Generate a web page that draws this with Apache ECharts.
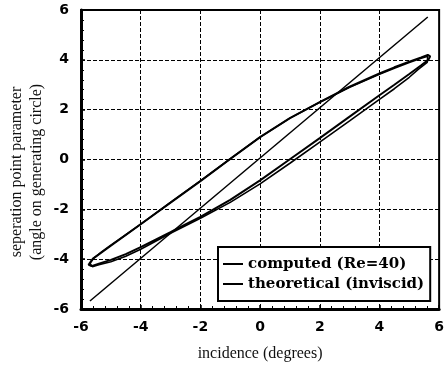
<!DOCTYPE html>
<html>
<head>
<meta charset="utf-8">
<script src="https://cdn.jsdelivr.net/npm/echarts@6/dist/echarts.min.js"></script>
<style>
html,body{margin:0;padding:0;background:#fff;}
#chart{width:447px;height:367px;}
</style>
</head>
<body>
<div id="chart"></div>
<script>
// ---- data ----
const axisTicks = [-6, -4, -2, 0, 2, 4, 6];
const xAxisTitle = 'incidence (degrees)';
const yAxisTitle = ['seperation point parameter', '(angle on generating circle)'];
const seriesNames = ['computed (Re=40)', 'theoretical (inviscid)'];

// computed hysteresis loop, first cycle [incidence, separation parameter]
const computedCycle1 = [
  [-5.72,-4.18],[-5.6,-3.98],[-5.3,-3.72],[-5.0,-3.46],[-4.5,-3.03],[-4.0,-2.6],
  [-3.0,-1.73],[-2.0,-0.87],[-1.0,0.02],[0.0,0.9],[1.0,1.66],[2.0,2.3],[3.0,2.92],
  [4.0,3.45],[4.5,3.7],[5.0,3.93],[5.4,4.1],[5.62,4.2],[5.7,4.14],[5.64,4.0],
  [5.4,3.78],[5.0,3.43],[4.5,3.0],[4.0,2.58],[3.0,1.72],[2.0,0.86],[1.0,0.01],
  [0.0,-0.84],[-1.0,-1.62],[-2.0,-2.3],[-2.5,-2.6],[-3.0,-2.92],[-3.5,-3.22],
  [-4.0,-3.52],[-4.5,-3.8],[-5.0,-4.03],[-5.4,-4.18],[-5.65,-4.28],[-5.75,-4.22],[-5.72,-4.18]
];
// computed hysteresis loop, second cycle
const computedCycle2 = [
  [-5.7,-4.16],[-5.58,-3.97],[-5.3,-3.7],[-5.0,-3.44],[-4.5,-3.02],[-4.0,-2.59],
  [-3.0,-1.72],[-2.0,-0.86],[-1.0,0.03],[0.0,0.9],[1.0,1.66],[2.0,2.3],[3.0,2.9],
  [4.0,3.42],[4.5,3.66],[5.0,3.89],[5.4,4.06],[5.62,4.14],[5.68,4.06],[5.6,3.9],
  [5.3,3.62],[5.0,3.3],[4.5,2.84],[4.0,2.41],[3.0,1.55],[2.0,0.7],[1.0,-0.15],
  [0.0,-0.98],[-1.0,-1.72],[-2.0,-2.36],[-2.5,-2.66],[-3.0,-2.96],[-3.5,-3.28],
  [-4.0,-3.6],[-4.5,-3.88],[-5.0,-4.1],[-5.4,-4.22],[-5.62,-4.3],[-5.7,-4.16]
];
// theoretical (inviscid) straight line
const theoretical = [[-5.7,-5.68],[5.62,5.72]];

// ---- chart ----
const chart = echarts.init(document.getElementById('chart'), null, {renderer: 'canvas'});
const tickFont = {color:'#000', fontFamily:'DejaVu Sans', fontWeight:'bold', fontSize:14};
function makeAxis(pos) {
  return {
    type: 'value',
    min: axisTicks[0],
    max: axisTicks[axisTicks.length - 1],
    interval: axisTicks[1] - axisTicks[0],
    axisLine: {show: true, onZero: false, lineStyle: {color:'#000', width:3}},
    axisTick: {show: true, inside: true, length: 4, lineStyle: {color:'#000', width:1.5}},
    minorTick: {show: true, splitNumber: 5, length: 3, lineStyle: {color:'#000', width:1}},
    splitLine: {show: true, lineStyle: {color:'#000', width:1, type:[4,2]}},
    axisLabel: Object.assign({margin: pos === 'x' ? 11 : 12}, tickFont)
  };
}
const option = {
  animation: false,
  backgroundColor: '#fff',
  grid: {left: 81, right: 1, top: 10, bottom: 57, show: true, borderColor:'#000', borderWidth: 2, backgroundColor:'transparent'},
  xAxis: Object.assign(makeAxis('x'), {
    name: xAxisTitle, nameLocation: 'middle', nameGap: 37,
    nameTextStyle: {fontFamily:'Liberation Serif', fontSize:16, color:'#111'}
  }),
  yAxis: makeAxis('y'),
  legend: {
    left: 218, top: 247, orient: 'vertical',
    data: seriesNames,
    icon: 'rect', itemWidth: 20, itemHeight: 2, itemGap: 2,
    padding: [8, 6, 8, 5],
    backgroundColor: '#fff', borderColor: '#000', borderWidth: 2,
    textStyle: {fontFamily:'DejaVu Serif', fontWeight:'bold', fontSize:15, color:'#000', lineHeight:18}
  },
  graphic: [{
    type: 'text', x: 27, y: 172, rotation: Math.PI / 2,
    style: {text: yAxisTitle.join('\n'), align:'center', verticalAlign:'middle',
      font: '16px "Liberation Serif"', fill:'#111', lineHeight: 20}
  }],
  series: [
    {name: seriesNames[0], type:'line', data: computedCycle1, showSymbol:false, symbol:'none',
      lineStyle:{color:'#000', width:2}, itemStyle:{color:'#000'}, z:3},
    {name: seriesNames[0], type:'line', data: computedCycle2, showSymbol:false, symbol:'none',
      lineStyle:{color:'#000', width:1.6}, itemStyle:{color:'#000'}, z:3},
    {name: seriesNames[1], type:'line', data: theoretical, showSymbol:false, symbol:'none',
      lineStyle:{color:'#000', width:1.5}, itemStyle:{color:'#000'}, z:2}
  ]
};
chart.setOption(option);
</script>
</body>
</html>
